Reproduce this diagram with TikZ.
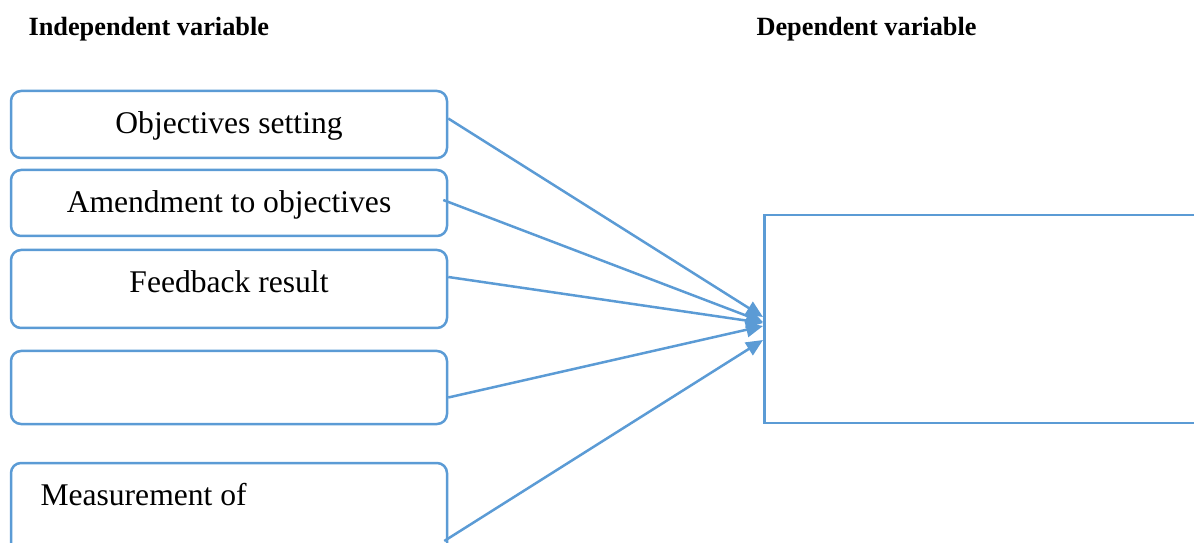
\documentclass[tikz,border=0pt]{standalone}
\usepackage{fontspec}
\setmainfont{Liberation Serif}
\usetikzlibrary{arrows.meta}
\definecolor{linkblue}{HTML}{5B9BD5}

\begin{document}
\begin{tikzpicture}[x=0.38pt, y=-0.38pt,
    varbox/.style={draw=linkblue, line width=0.95pt, rounded corners=3.8pt,
      minimum width=436*0.38pt, inner sep=0pt,
      font=\fontsize{12}{14}\selectfont},
    headtext/.style={anchor=base west, inner sep=0pt,
      font=\fontsize{10}{12}\selectfont\bfseries},
    boxtext/.style={anchor=base, inner sep=0pt,
      font=\fontsize{12}{14}\selectfont},
    linkarrow/.style={-{Triangle[length=6.4pt, width=5.6pt]}, linkblue,
      line width=0.95pt}
  ]
    \useasboundingbox (0,0) rectangle (1194,543);
    \clip (0,0) rectangle (1194,543);

    % headings
    \node[headtext] (indep) at (28,36) {Independent variable};
    \node[headtext] (dep) at (756,36) {Dependent variable};

    % independent variables
    \node[varbox, minimum height=67*0.38pt] (obj) at (229,124.5) {};
    \node[varbox, minimum height=66*0.38pt] (amend) at (229,203) {};
    \node[varbox, minimum height=78*0.38pt] (feed) at (229,289) {};
    \node[varbox, minimum height=73*0.38pt] (blank) at (229,387.5) {};
    \node[varbox, minimum height=100*0.38pt] (meas) at (229,513) {};
    \node[boxtext] at (229,134) {Objectives setting};
    \node[boxtext] at (229,213) {Amendment to objectives};
    \node[boxtext] at (229,293) {Feedback result};
    \node[boxtext, anchor=base west] at (40,505) {Measurement of};

    % dependent variable
    \node[draw=linkblue, line width=1.05pt, minimum width=470*0.38pt,
      minimum height=208*0.38pt, inner sep=0pt, anchor=west]
      (out) at (763,319) {};

    \draw[linkarrow] ([yshift=6*0.38pt]obj.east) -- ([yshift=2*0.38pt]out.west);
    \draw[linkarrow] ([xshift=-5*0.38pt, yshift=3*0.38pt]amend.east)
      -- ([yshift=-3*0.38pt]out.west);
    \draw[linkarrow] ([yshift=12*0.38pt]feed.east) -- ([yshift=-4*0.38pt]out.west);
    \draw[linkarrow] ([yshift=-10*0.38pt]blank.east) -- ([yshift=-7*0.38pt]out.west);
    \draw[linkarrow] ([xshift=-4*0.38pt, yshift=-28*0.38pt]meas.east)
      -- ([yshift=-21*0.38pt]out.west);
  \end{tikzpicture}
\end{document}
